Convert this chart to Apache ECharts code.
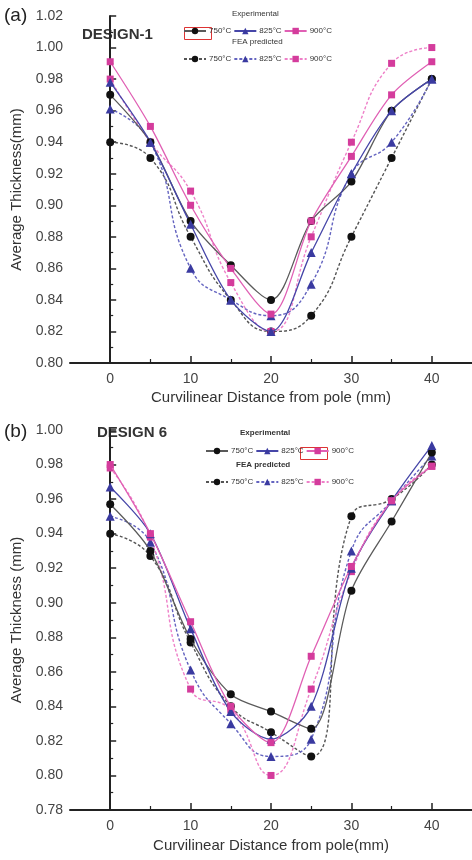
<!DOCTYPE html>
<html><head><meta charset="utf-8">
<script src="https://cdn.jsdelivr.net/npm/echarts@6/dist/echarts.min.js"></script>
<style>html,body{margin:0;padding:0;background:#fff}#c{width:472px;height:860px}</style>
</head><body><div id="c"></div>
<script>
// ---- data ----
const distance = [0, 5, 10, 15, 20, 25, 30, 35, 40];
const xTickLabels = [0, 10, 20, 30, 40];
const xMinorTicks = [5, 15, 25, 35];
const tempLabels = ['750°C', '825°C', '900°C'];

// Panel (a) DESIGN-1
const a_exp750 = [0.970, 0.940, 0.890, 0.862, 0.840, 0.890, 0.915, 0.960, 0.980];
const a_exp825 = [0.978, 0.940, 0.888, 0.840, 0.820, 0.870, 0.920, 0.960, 0.980];
const a_exp900 = [0.991, 0.950, 0.900, 0.860, 0.831, 0.890, 0.931, 0.970, 0.991];
const a_fea750 = [0.940, 0.930, 0.880, 0.840, 0.820, 0.830, 0.880, 0.930, 0.980];
const a_fea825 = [0.961, 0.940, 0.860, 0.840, 0.830, 0.850, 0.920, 0.940, 0.980];
const a_fea900 = [0.980, 0.940, 0.909, 0.851, 0.820, 0.880, 0.940, 0.990, 1.000];

// Panel (b) DESIGN 6
const b_exp750 = [0.957, 0.930, 0.879, 0.847, 0.837, 0.827, 0.907, 0.947, 0.987];
const b_exp825 = [0.967, 0.940, 0.885, 0.837, 0.821, 0.840, 0.920, 0.959, 0.991];
const b_exp900 = [0.980, 0.940, 0.889, 0.840, 0.819, 0.869, 0.921, 0.959, 0.979];
const b_fea750 = [0.940, 0.927, 0.877, 0.840, 0.825, 0.811, 0.950, 0.960, 0.980];
const b_fea825 = [0.950, 0.935, 0.861, 0.830, 0.811, 0.821, 0.930, 0.959, 0.985];
const b_fea900 = [0.978, 0.938, 0.850, 0.838, 0.800, 0.850, 0.918, 0.959, 0.979];

// ---- styling ----
const FONT = 'Liberation Sans, Arial, sans-serif';
const C = {
  k: {line: '#5a5a5a', mark: '#111', dot: '#555'},
  b: {line: '#4646a8', mark: '#3a3aa0', dot: '#6464c0'},
  m: {line: '#e060b4', mark: '#d43c9c', dot: '#ee80c8'}
};
const SYM = {k: ['circle', 8], b: ['triangle', 9], m: ['rect', 7]};

function pairs(arr) { return distance.map((d, i) => [d, arr[i]]); }

function mk(name, arr, key, fea, gi) {
  return {
    type: 'line', name: name, xAxisIndex: gi * 2, yAxisIndex: gi,
    data: pairs(arr), smooth: fea ? 0.5 : 0.3,
    symbol: SYM[key][0], symbolSize: SYM[key][1],
    lineStyle: {color: fea ? C[key].dot : C[key].line, width: fea ? 1.4 : 1.3, type: fea ? [3, 2] : 'solid'},
    itemStyle: {color: C[key].mark},
    z: fea ? 2 : 3
  };
}

const series = [
  mk('FEA 750', a_fea750, 'k', true, 0), mk('FEA 825', a_fea825, 'b', true, 0), mk('FEA 900', a_fea900, 'm', true, 0),
  mk('Exp 750', a_exp750, 'k', false, 0), mk('Exp 825', a_exp825, 'b', false, 0), mk('Exp 900', a_exp900, 'm', false, 0),
  mk('FEA 750', b_fea750, 'k', true, 1), mk('FEA 825', b_fea825, 'b', true, 1), mk('FEA 900', b_fea900, 'm', true, 1),
  mk('Exp 750', b_exp750, 'k', false, 1), mk('Exp 825', b_exp825, 'b', false, 1), mk('Exp 900', b_exp900, 'm', false, 1)
];

const grids = [
  {left: 70, top: 16, width: 402, height: 347},
  {left: 70, top: 430, width: 402, height: 380}
];

function xAxes(gi, title, nameGap) {
  return [{
    type: 'value', gridIndex: gi, min: -5, max: 45,
    axisLine: {lineStyle: {color: '#222', width: 2}},
    axisTick: {inside: true, length: 7, customValues: xTickLabels, lineStyle: {color: '#222', width: 1.5}},
    axisLabel: {customValues: xTickLabels, color: '#444', fontSize: 14, fontFamily: FONT, margin: 9},
    splitLine: {show: false},
    name: title, nameLocation: 'middle', nameGap: nameGap,
    nameTextStyle: {color: '#333', fontSize: 15, fontFamily: FONT}
  }, {
    type: 'value', gridIndex: gi, min: -5, max: 45, position: 'bottom',
    axisLine: {show: false},
    axisTick: {inside: true, length: 4, customValues: xMinorTicks, lineStyle: {color: '#222', width: 1.2}},
    axisLabel: {show: false}, splitLine: {show: false}
  }];
}

function yAxis(gi, min, max, title) {
  return {
    type: 'value', gridIndex: gi, min: min, max: max, interval: 0.02,
    axisLine: {show: true, lineStyle: {color: '#222', width: 2}},
    axisTick: {show: true, inside: true, length: 6, lineStyle: {color: '#222', width: 1.5}},
    minorTick: {show: true, splitNumber: 2, length: 3, lineStyle: {color: '#222', width: 1.2}},
    axisLabel: {color: '#444', fontSize: 14, fontFamily: FONT, margin: 7, formatter: v => v.toFixed(2)},
    splitLine: {show: false},
    name: title, nameLocation: 'middle', nameGap: 44, nameRotate: 90,
    nameTextStyle: {color: '#333', fontSize: 15, fontFamily: FONT}
  };
}

function legend(names, left, top) {
  return {
    data: names, left: left, top: top, orient: 'horizontal',
    itemWidth: 22, itemHeight: 8, itemGap: 2, padding: 0,
    selectedMode: false,
    formatter: n => n.replace(/^(Exp|FEA) /, '') + '°C',
    textStyle: {fontSize: 8, color: '#333', fontFamily: FONT, padding: [0, 0, 0, -2]}
  };
}

const option = {
  animation: false,
  backgroundColor: '#fff',
  grid: grids,
  xAxis: [].concat(xAxes(0, 'Curvilinear Distance from pole (mm)', 27), xAxes(1, 'Curvilinear Distance from pole(mm)', 28)),
  yAxis: [yAxis(0, 0.80, 1.02, 'Average Thickness(mm)'), yAxis(1, 0.78, 1.00, 'Average Thickness (mm)')],
  legend: [
    legend(['Exp 750', 'Exp 825', 'Exp 900'], 183, 27),
    legend(['FEA 750', 'FEA 825', 'FEA 900'], 183, 55),
    legend(['Exp 750', 'Exp 825', 'Exp 900'], 205, 447),
    legend(['FEA 750', 'FEA 825', 'FEA 900'], 205, 478)
  ],
  graphic: [
    {type: 'text', left: 4, top: 6, style: {text: '(a)', fontSize: 19, fill: '#222', fontFamily: FONT}},
    {type: 'text', left: 82, top: 27, style: {text: 'DESIGN-1', fontSize: 15, fill: '#333', fontFamily: FONT, fontWeight: 'bold'}},
    {type: 'text', left: 'center', x: 0, top: 10, style: {text: 'Experimental', fontSize: 8, fill: '#333', fontFamily: FONT}, left: 232},
    {type: 'text', left: 232, top: 38, style: {text: 'FEA predicted', fontSize: 8, fill: '#333', fontFamily: FONT}},
    {type: 'rect', left: 182, top: 25, shape: {width: 27, height: 12}, style: {fill: 'none', stroke: '#d33', lineWidth: 1}},
    {type: 'text', left: 4, top: 422, style: {text: '(b)', fontSize: 19, fill: '#222', fontFamily: FONT}},
    {type: 'text', left: 97, top: 425, style: {text: 'DESIGN 6', fontSize: 15, fill: '#333', fontFamily: FONT, fontWeight: 'bold'}},
    {type: 'text', left: 240, top: 429, style: {text: 'Experimental', fontSize: 8, fill: '#333', fontFamily: FONT, fontWeight: 'bold'}},
    {type: 'text', left: 236, top: 461, style: {text: 'FEA predicted', fontSize: 8, fill: '#333', fontFamily: FONT, fontWeight: 'bold'}},
    {type: 'rect', left: 298, top: 445, shape: {width: 27, height: 12}, style: {fill: 'none', stroke: '#d33', lineWidth: 1}}
  ],
  series: series
};

const chart = echarts.init(document.getElementById('c'), null, {renderer: 'canvas'});
chart.setOption(option);
</script></body></html>
